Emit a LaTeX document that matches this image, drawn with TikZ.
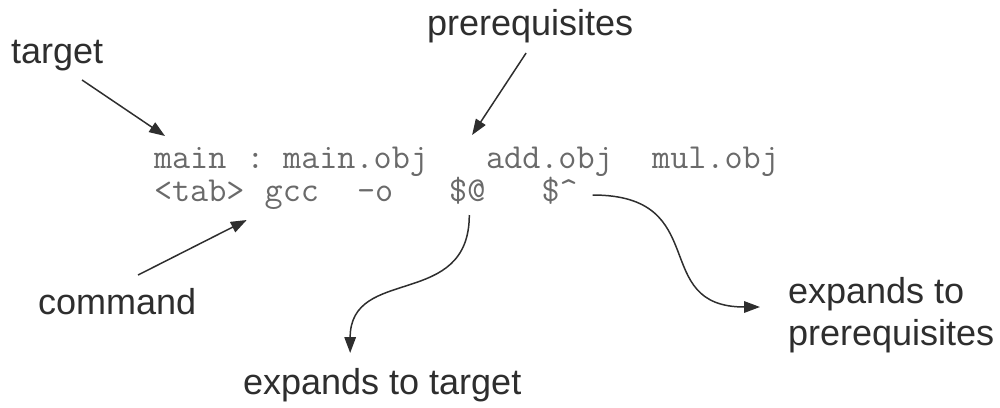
\documentclass[tikz,border=0pt]{standalone}
\usepackage{fontspec}
\setmainfont{Liberation Sans}
\usepackage{tikz}
\usetikzlibrary{arrows.meta,positioning}
\definecolor{notegray}{HTML}{2E2E2E}
\definecolor{codegray}{HTML}{6A6A6A}

\begin{document}
\begin{tikzpicture}[% one unit = one pixel of the sketch, y runs downwards
		x=0.02cm,y=-0.02cm,
		every node/.style={inner sep=0pt,outer sep=0pt},
		note/.style={anchor=base west,text=notegray,font=\fontsize{20.5}{23.9}\selectfont},
		code/.style={anchor=base west,text=codegray,font=\ttfamily\fontsize{20}{22}\selectfont},
		every edge/.style={draw=notegray,line width=0.85pt},
		pointer/.style={draw=notegray,line width=0.85pt,-{Triangle[length=9pt,width=6.5pt]}}
	]
	\useasboundingbox (0,0) rectangle (1000,407);

	% the rule, one node per word (columns of 18.45)
	\node[code](main) at (154,168) {main};
	\node[code](colon) at (246.3,168) {:};
	\node[code](mainobj) at (283.2,168) {main.obj};
	\node[code](addobj) at (486.1,168) {add.obj};
	\node[code](mulobj) at (652.2,168) {mul.obj};
	\node[code](tab) at (154,201) {<tab>};
	\node[code](gcc) at (264.7,201) {gcc};
	\node[code](flag) at (357,201) {-o};
	\node[code](dollarAt) at (449.2,201) {\$@};
	\node[code](dollarCaret) at (541.5,201) {\$\textasciicircum};

	% the notes round it
	\node[note](target) at (11,63) {target};
	\node[note](prereq) at (427,35) {prerequisites};
	\node[note](command) at (38,314) {command};
	\node[note](expTarget) at (243,394) {expands to target};
	\node[note,anchor=west,align=left](expPrereq) at (788,315) {expands to\\prerequisites};

	\path[-{Triangle[length=9pt,width=6.5pt]}]
	([shift={(25,17)}]target.base) edge [] ([shift={(11,-32)}]main.base west)
	([shift={(-4,18)}]prereq.base) edge [] ([shift={(-14,-33)}]addobj.base west)
	([shift={(21,-39)}]command.base) edge [] ([shift={(-18,19)}]gcc.base west)
	;
	\draw[pointer] ([shift={(2,14)}]dollarAt.base) .. controls +(0,95) and +(0,-88) .. ([shift={(-32,-41)}]expTarget.base);
	\draw[pointer] ([shift={(15,-6)}]dollarCaret.base east) .. controls +(121,0) and +(-112,0) .. ([shift={(-28,-8)}]expPrereq.west);
\end{tikzpicture}
\end{document}
